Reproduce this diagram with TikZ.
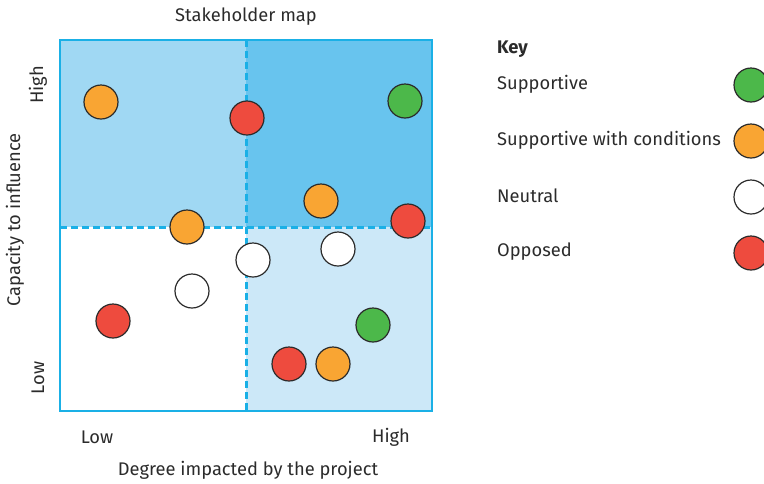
\documentclass[tikz,border=0pt]{standalone}
\usepackage{fontspec}
\setmainfont{Fira Sans}
\definecolor{qtl}{HTML}{A0D8F3}
\definecolor{qtr}{HTML}{68C4EE}
\definecolor{qbr}{HTML}{CCE8F8}
\definecolor{edge}{HTML}{1AB0E6}
\definecolor{cgreen}{HTML}{4CB84A}
\definecolor{corange}{HTML}{F9A533}
\definecolor{cred}{HTML}{EE4B3E}
\definecolor{ink}{HTML}{2B2B2B}
\begin{document}
\begin{tikzpicture}[x=1pt,y=-1pt,
  dot/.style={circle,draw=ink,line width=1.2pt,minimum size=34pt,inner sep=0pt},
  sup/.style={dot,fill=cgreen},
  cond/.style={dot,fill=corange},
  neu/.style={dot,fill=white},
  opp/.style={dot,fill=cred},
  lbl/.style={font=\fontsize{18.3}{21}\selectfont,text=ink,inner sep=0pt},
  keytxt/.style={lbl,anchor=west}]
\useasboundingbox (0,0) rectangle (764,483);
% quadrants
\fill[qtl] (60,40) rectangle (246,227);
\fill[qtr] (246,40) rectangle (432,227);
\fill[qbr] (246,227) rectangle (432,411);
\draw[edge,line width=3pt,dash pattern=on 7pt off 4pt] (246,40) -- (246,411);
\draw[edge,line width=3pt,dash pattern=on 7pt off 4pt] (60,227) -- (432,227);
\draw[edge,line width=1.5pt] (60,40) rectangle (432,411);
% stakeholders
\node[cond] (s1) at (101,102) {};
\node[opp]  (s2) at (247,118) {};
\node[sup]  (s3) at (405,101) {};
\node[cond] (s4) at (321,201) {};
\node[opp]  (s5) at (408,221) {};
\node[cond] (s6) at (187,227) {};
\node[neu]  (s7) at (253,260) {};
\node[neu]  (s8) at (338,249) {};
\node[neu]  (s9) at (192,291) {};
\node[opp]  (s10) at (113,321) {};
\node[sup]  (s11) at (373,325) {};
\node[opp]  (s12) at (289,364) {};
\node[cond] (s13) at (333,364) {};
% titles
\node[lbl] (title) at (246,17) {Stakeholder map};
\node[lbl] (xlow) at (97,437) {Low};
\node[lbl] (xhigh) at (391,437) {High};
\node[lbl] (xlab) at (248,470) {Degree impacted by the project};
\node[lbl,rotate=90] (ylab) at (15,220) {Capacity to influence};
\node[lbl,rotate=90] (yhigh) at (38,85) {High};
\node[lbl,rotate=90] (ylow) at (38,378) {Low};
% key
\node[keytxt,font=\fontsize{18.3}{21}\selectfont\bfseries] (key) at (497,49) {Key};
\node[keytxt] (k1) at (497,84) {Supportive};
\node[keytxt] (k2) at (497,140) {Supportive with conditions};
\node[keytxt] (k3) at (497,196) {Neutral};
\node[keytxt] (k4) at (497,252) {Opposed};
\node[sup]  (d1) at (751,85) {};
\node[cond] (d2) at (751,141) {};
\node[neu]  (d3) at (751,197) {};
\node[opp]  (d4) at (751,253) {};
\end{tikzpicture}
\end{document}
